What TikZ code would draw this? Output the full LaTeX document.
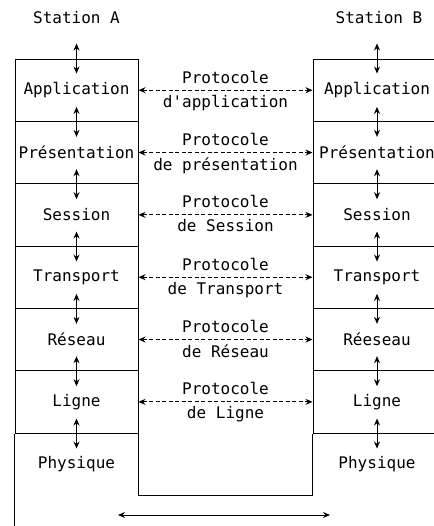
\documentclass[tikz,border=0pt]{standalone}
\usepackage{fontspec}
\setmainfont{DejaVu Sans Mono}
\usetikzlibrary{arrows.meta,positioning}

\tikzset{
  couche/.style={draw,minimum width=123pt,minimum height=62.33pt,inner sep=0pt},
  coucheB/.style={couche,minimum width=128pt},
  libre/.style={minimum width=123pt,minimum height=62.33pt,inner sep=0pt},
  proto/.style={<->,dash pattern=on 4pt off 2.5pt},
}

\begin{document}
\begin{tikzpicture}[x=1pt,y=-1pt,node distance=62.33pt,on grid,
    >={Stealth[length=7pt,width=6pt]},line width=1pt,
    font=\fontsize{16}{19}\selectfont]
  \useasboundingbox (0,0) rectangle (433,526);

  % station A
  \node (staA) at (76.5,18) {Station A};
  \node[couche] (appA) at (76.5,90.2) {Application};
  \node[couche] (preA) [below=of appA] {Présentation};
  \node[couche] (sesA) [below=of preA] {Session};
  \node[couche] (traA) [below=of sesA] {Transport};
  \node[couche] (resA) [below=of traA] {Réseau};
  \node[couche] (ligA) [below=of resA] {Ligne};
  \node[libre]  (phyA) [below=of ligA] {Physique};

  % station B
  \node (staB) at (379,18) {Station B};
  \node[coucheB] (appB) at (377,90.2) {Application};
  \node[coucheB] (preB) [below=of appB] {Présentation};
  \node[coucheB] (sesB) [below=of preB] {Session};
  \node[coucheB] (traB) [below=of sesB] {Transport};
  \node[coucheB] (resB) [below=of traB] {Réeseau};
  \node[coucheB] (ligB) [below=of resB] {Ligne};
  \node[libre]   (phyB) [below=of ligB] {Physique};

  % support physique
  \draw (ligA.south west) -- ++(0,93);
  \draw (ligA.south east) -- ++(0,62) -| (ligB.south west);
  \coordinate (supG) at (118,515);
  \coordinate (supD) at (330,515);
  \draw[<->] (supG) -- (supD);

  % interfaces
  \foreach \c in {appA,appB}
    \draw[<->] ([yshift=15pt]\c.north) -- ([yshift=-15pt]\c.north);
  \foreach \c in {appA,preA,sesA,traA,resA,ligA,appB,preB,sesB,traB,resB,ligB}
    \draw[<->] ([yshift=15pt]\c.south) -- ([yshift=-15pt]\c.south);

  % protocoles
  \draw[proto] (appA.east) -- (appB.west)
    node[midway,above=3pt] {Protocole}
    node[midway,below=1pt] {d\textquotesingle application};
  \draw[proto] (preA.east) -- (preB.west)
    node[midway,above=3pt] {Protocole} node[midway,below=1pt] {de présentation};
  \draw[proto] (sesA.east) -- (sesB.west)
    node[midway,above=3pt] {Protocole} node[midway,below=1pt] {de Session};
  \draw[proto] (traA.east) -- (traB.west)
    node[midway,above=3pt] {Protocole} node[midway,below=1pt] {de Transport};
  \draw[proto] (resA.east) -- (resB.west)
    node[midway,above=3pt] {Protocole} node[midway,below=1pt] {de Réseau};
  \draw[proto] (ligA.east) -- (ligB.west)
    node[midway,above=3pt] {Protocole} node[midway,below=1pt] {de Ligne};
\end{tikzpicture}
\end{document}
